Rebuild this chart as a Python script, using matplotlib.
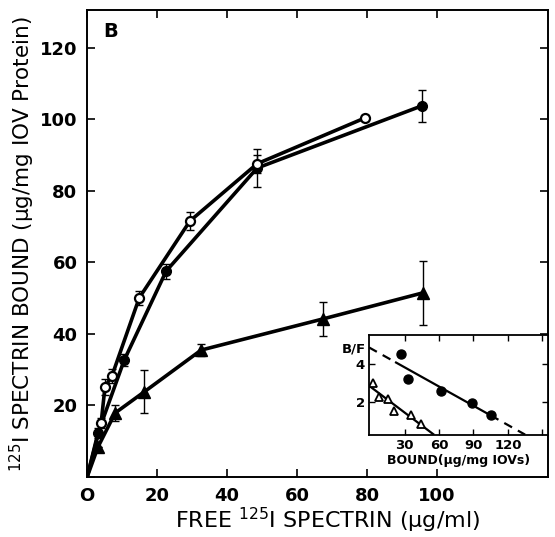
import numpy as np
import matplotlib
matplotlib.use('Agg')
import matplotlib.pyplot as plt

# Main panel data (first point of each series is the origin, line only)
open_x = [0, 4.0, 5.1, 7.1, 14.9, 29.4, 48.6, 79.4]
open_y = [0, 15.1, 25.2, 28.3, 50.1, 71.6, 87.6, 100.4]
open_err = [0, 1.5, 2.3, 1.9, 2.0, 2.4, 2.5, 0.8]

filled_x = [0, 3.1, 10.6, 22.6, 48.6, 95.7]
filled_y = [0, 12.3, 32.7, 57.6, 86.4, 103.8]
filled_err = [0, 1.5, 1.7, 2.1, 5.3, 4.5]

tri_x = [0, 3.1, 8.0, 16.3, 32.6, 67.4, 96.0]
tri_y = [0, 8.4, 17.9, 23.8, 35.5, 44.2, 51.5]
tri_err = [0, 0, 2.3, 6.0, 1.7, 4.8, 8.9]

# Inset (Scatchard plot) data
ins_fill_x = [26.5, 33.2, 61.4, 89.0, 105.0]
ins_fill_y = [4.51, 3.19, 2.58, 1.96, 1.32]
ins_tri_x = [2.1, 7.3, 15.9, 20.8, 35.2, 44.4]
ins_tri_y = [3.0, 2.28, 2.16, 1.53, 1.32, 0.84]

fig = plt.figure(figsize=(5.55, 5.37), dpi=100)
ax = fig.add_axes([0.157, 0.1117, 0.83, 0.8697])

lw = 2.6
ebkw = dict(ecolor='black', elinewidth=1.0, capsize=3, capthick=1.0, zorder=2)

ax.plot(open_x, open_y, color='black', lw=lw, zorder=1)
ax.plot(filled_x, filled_y, color='black', lw=lw, zorder=1)
ax.plot(tri_x, tri_y, color='black', lw=lw, zorder=1)

ax.errorbar(open_x[1:], open_y[1:], yerr=open_err[1:], fmt='none', **ebkw)
ax.errorbar(filled_x[1:], filled_y[1:], yerr=filled_err[1:], fmt='none', **ebkw)
ax.errorbar(tri_x[1:], tri_y[1:], yerr=tri_err[1:], fmt='none', **ebkw)

ax.plot(filled_x[1:], filled_y[1:], 'o', color='black', ms=7, zorder=3)
ax.plot(open_x[1:], open_y[1:], 'o', mfc='white', mec='black', mew=1.6, ms=6.5, zorder=4)
ax.plot(tri_x[1:], tri_y[1:], '^', color='black', ms=8.5, zorder=3)

ax.set_xlim(0, 131.7)
ax.set_ylim(0, 130.6)
ax.set_xticks([0, 20, 40, 60, 80, 100])
ax.set_xticklabels(['O', '20', '40', '60', '80', '100'])
ax.set_yticks([0, 20, 40, 60, 80, 100, 120])
ax.set_yticklabels(['', '20', '40', '60', '80', '100', '120'])
ax.tick_params(direction='in', length=6, width=1.2, top=True, right=True,
               labelsize=13, pad=7)
for lab in ax.get_xticklabels() + ax.get_yticklabels():
    lab.set_fontweight('bold')
for sp in ax.spines.values():
    sp.set_linewidth(1.4)

ax.text(0.035, 0.975, 'B', transform=ax.transAxes, fontsize=14,
        fontweight='bold', ha='left', va='top')

fig.text(0.59, 0.003, r'FREE $^{125}$I SPECTRIN (μg/ml)', fontsize=16,
         ha='center', va='bottom')
fig.text(0.04, 0.545, r'$^{125}$I SPECTRIN BOUND (μg/mg IOV Protein)',
         fontsize=15.5, ha='center', va='center', rotation=90)

# Inset
ins = fig.add_axes([0.665, 0.19, 0.3225, 0.186])
ins.plot(ins_fill_x, ins_fill_y, 'o', color='black', ms=6.5, zorder=3)
ins.plot(ins_tri_x, ins_tri_y, '^', mfc='white', mec='black', mew=1.3, ms=6, zorder=3)

s1, b1 = np.polyfit(ins_fill_x, ins_fill_y, 1)
xs = np.linspace(min(ins_fill_x) - 4, max(ins_fill_x), 50)
ins.plot(xs, b1 + s1 * xs, color='black', lw=1.6)
xd1 = np.linspace(-1, min(ins_fill_x) - 4, 20)
xd2 = np.linspace(max(ins_fill_x), 135, 20)
ins.plot(xd1, b1 + s1 * xd1, color='black', lw=1.6, ls=(0, (4, 3)))
ins.plot(xd2, b1 + s1 * xd2, color='black', lw=1.6, ls=(0, (4, 3)))

s2, b2 = np.polyfit(ins_tri_x, ins_tri_y, 1)
xt = np.linspace(-1, 55, 50)
ins.plot(xt, b2 + s2 * xt, color='black', lw=1.6)

ins.set_xlim(-1, 155)
ins.set_ylim(0.26, 5.53)
ins.set_xticks([30, 60, 90, 120, 150])
ins.set_xticklabels(['30', '60', '90', '120', ''])
ins.set_yticks([2, 4])
ins.tick_params(direction='in', length=4, width=1.0, top=True, right=True,
                labelsize=9.5, pad=3)
for lab in ins.get_xticklabels() + ins.get_yticklabels():
    lab.set_fontweight('bold')
for sp in ins.spines.values():
    sp.set_linewidth(1.3)
ins.set_xlabel('BOUND(μg/mg IOVs)', fontsize=9, fontweight='bold', labelpad=1)
ins.text(-0.02, 0.86, 'B/F', transform=ins.transAxes, fontsize=9.5,
         fontweight='bold', ha='right', va='center')

fig.savefig('out.png', dpi=100)
